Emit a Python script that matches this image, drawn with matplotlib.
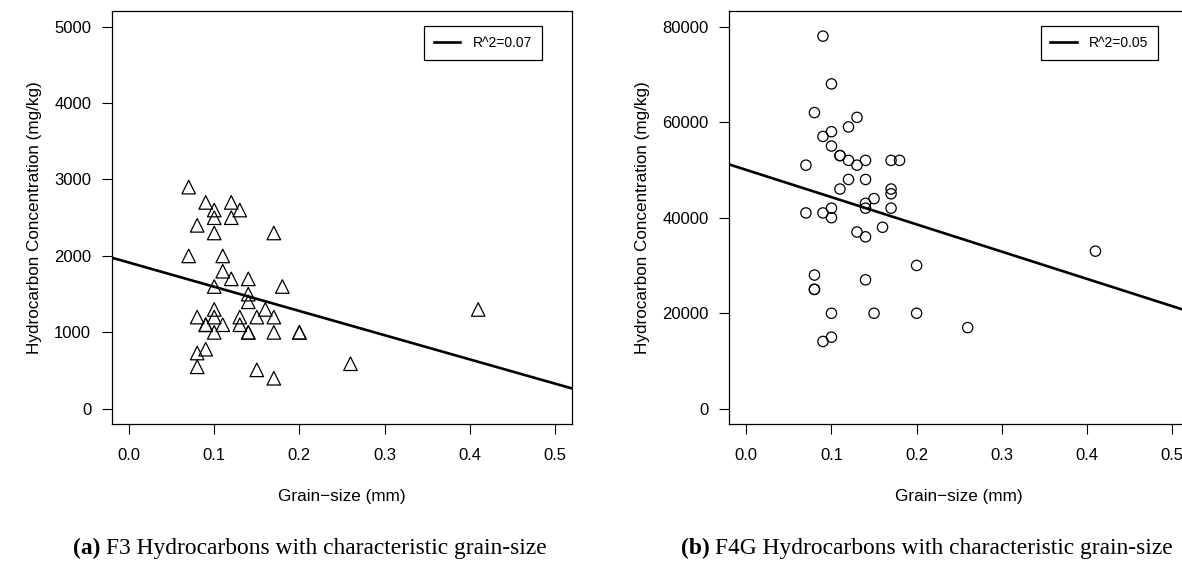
import numpy as np
import matplotlib.pyplot as plt

plt.rcParams['font.family'] = ['Liberation Sans', 'DejaVu Sans']

# F3 hydrocarbons vs grain-size
f3_size = [0.07, 0.09, 0.12, 0.10, 0.13, 0.10, 0.12, 0.08, 0.10, 0.17,
           0.07, 0.11, 0.11, 0.12, 0.14, 0.10, 0.18, 0.14, 0.14, 0.10,
           0.16, 0.41, 0.08, 0.10, 0.13, 0.15, 0.17, 0.09, 0.09, 0.11,
           0.13, 0.10, 0.14, 0.14, 0.17, 0.20, 0.20, 0.09, 0.08, 0.08,
           0.15, 0.17, 0.26]
f3_conc = [2900, 2700, 2700, 2600, 2600, 2500, 2500, 2400, 2300, 2300,
           2000, 2000, 1800, 1700, 1700, 1600, 1600, 1500, 1400, 1300,
           1300, 1300, 1200, 1200, 1200, 1200, 1200, 1100, 1100, 1100,
           1100, 1000, 1000, 1000, 1000, 1000, 1000, 780, 730, 550,
           510, 400, 590]
f3_fit = (1913, -3165)  # intercept, slope
f3_r2 = "R^2=0.07"

# F4G hydrocarbons vs grain-size
f4g_size = [0.09, 0.10, 0.08, 0.13, 0.12, 0.10, 0.09, 0.10, 0.11, 0.11,
            0.12, 0.14, 0.17, 0.18, 0.07, 0.13, 0.12, 0.14, 0.11, 0.17,
            0.17, 0.15, 0.14, 0.14, 0.10, 0.17, 0.07, 0.09, 0.10, 0.16,
            0.13, 0.14, 0.41, 0.20, 0.08, 0.14, 0.08, 0.08, 0.10, 0.15,
            0.20, 0.26, 0.10, 0.09]
f4g_conc = [78000, 68000, 62000, 61000, 59000, 58000, 57000, 55000, 53000, 53000,
            52000, 52000, 52000, 52000, 51000, 51000, 48000, 48000, 46000, 46000,
            45000, 44000, 43000, 42000, 42000, 42000, 41000, 41000, 40000, 38000,
            37000, 36000, 33000, 30000, 28000, 27000, 25000, 25000, 20000, 20000,
            20000, 17000, 15000, 14100]
f4g_fit = (50000, -57000)
f4g_r2 = "R^2=0.05"

fig = plt.figure(figsize=(11.82, 5.64), dpi=100)
ax1 = fig.add_axes([0.0948, 0.248, 0.389, 0.732])
ax2 = fig.add_axes([0.617, 0.248, 0.389, 0.732])


def panel(ax, x, y, fit, lab, marker, ms, ylim, yticks, leg_x):
    ax.scatter(x, y, marker=marker, s=ms, facecolors='none', edgecolors='black', linewidths=0.9, zorder=3)
    xs = np.array([-0.02, 0.52])
    ax.plot(xs, fit[0] + fit[1] * xs, color='black', lw=1.9, label=lab)
    ax.set_xlim(-0.02, 0.52)
    ax.set_ylim(*ylim)
    ax.set_xticks([0.0, 0.1, 0.2, 0.3, 0.4, 0.5])
    ax.set_xticklabels(['0.0', '0.1', '0.2', '0.3', '0.4', '0.5'])
    ax.set_yticks(yticks)
    ax.tick_params(axis='x', length=7, width=0.8, pad=10, labelsize=12)
    ax.tick_params(axis='y', length=7, width=0.8, pad=8, labelsize=12)
    for s in ax.spines.values():
        s.set_linewidth(0.9)
    ax.set_xlabel('Grain\u2212size (mm)', fontsize=12.3, labelpad=19)
    ax.set_ylabel('Hydrocarbon Concentration (mg/kg)', fontsize=12.3, labelpad=9)
    leg = ax.legend(loc='upper right', bbox_to_anchor=(leg_x, 0.964), fontsize=10,
                    fancybox=False, framealpha=1, edgecolor='black', borderaxespad=0,
                    handlelength=1.9, borderpad=0.7, handletextpad=0.9)
    leg.get_frame().set_linewidth(0.9)


panel(ax1, f3_size, f3_conc, f3_fit, f3_r2, '^', 95, (-200, 5200),
      [0, 1000, 2000, 3000, 4000, 5000], 0.935)
panel(ax2, f4g_size, f4g_conc, f4g_fit, f4g_r2, 'o', 55, (-3200, 83200),
      [0, 20000, 40000, 60000, 80000], 0.933)


def caption(xc, tag, txt):
    t = fig.text(xc, 0.018, tag, fontsize=16.9, fontweight='bold',
                 family=['Liberation Serif'], va='baseline')
    ax1.annotate(txt, xy=(1, 0), xycoords=t, xytext=(4, 0), textcoords='offset points',
                 fontsize=16.9, family=['Liberation Serif'], va='bottom', annotation_clip=False)


caption(0.062, '(a)', 'F3 Hydrocarbons with characteristic grain-size')
caption(0.576, '(b)', 'F4G Hydrocarbons with characteristic grain-size')

fig.savefig('out.png', dpi=100)
